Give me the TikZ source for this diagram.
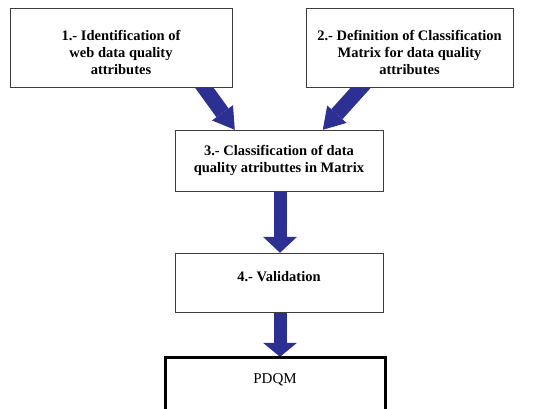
\documentclass[tikz,border=0pt]{standalone}
\usepackage{fontspec}
\setmainfont{Liberation Serif}
\usetikzlibrary{arrows.meta,calc}
\definecolor{arrowblue}{RGB}{44,48,146}
\definecolor{boxline}{RGB}{60,60,60}
\begin{document}
\begin{tikzpicture}[x=1pt,y=-1pt,
  box/.style={draw=boxline, line width=0.9pt, fill=white, inner sep=0pt},
  lbl/.style={font=\fontsize{14.5}{17}\selectfont\bfseries, align=center, inner sep=0pt},
  diag/.style={draw=arrowblue, line width=15pt,
    -{Triangle[length=21pt,width=26pt,line width=0pt]}},
  vert/.style={draw=arrowblue, line width=13pt,
    -{Triangle[length=#1,width=34pt,line width=0pt]}}]
\useasboundingbox (0,0) rectangle (553,408);

% boxes (positions)
\path (121,47.5) node[minimum width=222pt, minimum height=79pt] (b1) {};
\path (409.5,47.5) node[minimum width=207pt, minimum height=79pt] (b2) {};
\path (279,160.5) node[minimum width=208pt, minimum height=61pt] (b3) {};
\path (279,282.5) node[minimum width=208pt, minimum height=59pt] (b4) {};
\path (275,387) node[minimum width=220pt, minimum height=60pt] (b5) {};

% arrows (under the boxes)
\coordinate (s1) at ($(b1.south west)+(190,-5.7)$);
\coordinate (e1) at ($(b3.north west)+(60,0)$);
\coordinate (s2) at ($(b2.south west)+(59,-4)$);
\coordinate (e2) at ($(b3.north west)+(148,0)$);
\draw[diag] (s1) -- (e1);
\draw[diag] (s2) -- (e2);
\draw[vert=16pt] ($(b3.south)+(1,0)$) -- ($(b4.north)+(1,0)$);
\draw[vert=14pt] ($(b4.south)+(1,-2)$) -- ($(b4.south |- b5.north)+(1,0)$);

% visible boxes
\node[box, minimum width=222pt, minimum height=79pt] at (b1) {};
\node[box, minimum width=207pt, minimum height=79pt] at (b2) {};
\node[box, minimum width=208pt, minimum height=61pt] at (b3) {};
\node[box, minimum width=208pt, minimum height=59pt] at (b4) {};
\node[draw=black, line width=3pt, fill=white, minimum width=220pt, minimum height=60pt] at (b5) {};

% texts
\node[lbl] (t1) at (121,52) {1.- Identification of\\web data quality\\attributes};
\node[lbl] (t2) at (409.5,52) {2.- Definition of Classification\\Matrix for data quality\\attributes};
\node[lbl] (t3) at (279,160) {3.- Classification of data\\quality atributtes in Matrix};
\node[lbl] (t4) at (279,277) {4.- Validation};
\node[font=\fontsize{15}{18}\selectfont, inner sep=0pt] (t5) at (275,380) {PDQM};
\end{tikzpicture}
\end{document}
